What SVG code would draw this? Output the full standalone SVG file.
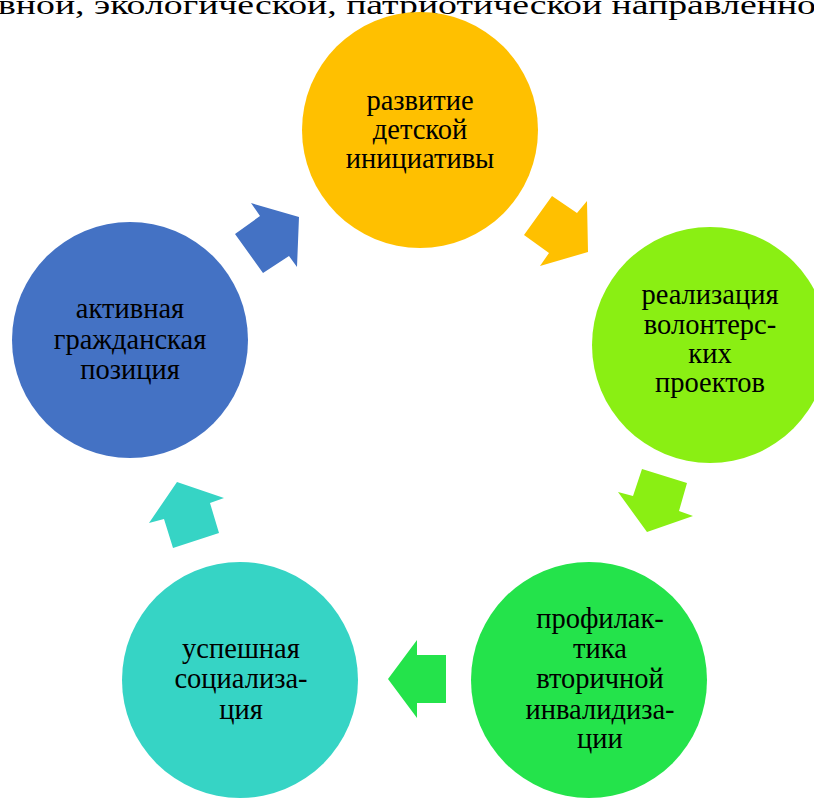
<svg xmlns="http://www.w3.org/2000/svg" width="814" height="799" viewBox="0 0 814 799">
<style>
text{font-family:"Liberation Serif","Times New Roman",serif;font-size:28.5px;fill:#000;text-anchor:middle}
.top{font-size:28px;text-anchor:start}
</style>
<rect width="814" height="799" fill="#fff"/>
<text class="top" x="-2" y="14" textLength="818" lengthAdjust="spacingAndGlyphs">вной, экологической, патриотической направленно</text>
<g id="connectors">
<polygon fill="#4472C4" points="251,203 260,216 235,234 263,273 289,256 297,267 299,217"/>
<polygon fill="#FFC000" points="552,196 577,213 587,201 588,252 540,266 549,253 524,235"/>
<polygon fill="#8AEF13" points="642,469 687,483 679,511 693,516 647,532 618,492 633,496"/>
<polygon fill="#24E34B" points="417,640 417,655 446,655 446,703 417,703 417,718 388,679"/>
<polygon fill="#36D4C5" points="177,482 224,498 210,503 219,533 173,548 164,519 149,523"/>
</g>
<g id="n1"><circle cx="420" cy="130" r="118" fill="#FFC000"/>
<text x="420" y="110">развитие</text><text x="420" y="139">детской</text><text x="420" y="168">инициативы</text></g>
<g id="n2"><circle cx="710" cy="345" r="118" fill="#8AEF13"/>
<text x="710" y="304">реализация</text><text x="710" y="334">волонтерс-</text><text x="710" y="363">ких</text><text x="710" y="392">проектов</text></g>
<g id="n3"><circle cx="589" cy="680" r="118" fill="#24E34B"/>
<text x="600" y="628">профилак-</text><text x="600" y="658">тика</text><text x="600" y="688">вторичной</text><text x="600" y="719">инвалидиза-</text><text x="600" y="748">ции</text></g>
<g id="n4"><circle cx="240" cy="680" r="118" fill="#36D4C5"/>
<text x="241" y="658">успешная</text><text x="241" y="688">социализа-</text><text x="241" y="719">ция</text></g>
<g id="n5"><circle cx="130" cy="340" r="118" fill="#4472C4"/>
<text x="130" y="318">активная</text><text x="130" y="349">гражданская</text><text x="130" y="379">позиция</text></g>
</svg>
